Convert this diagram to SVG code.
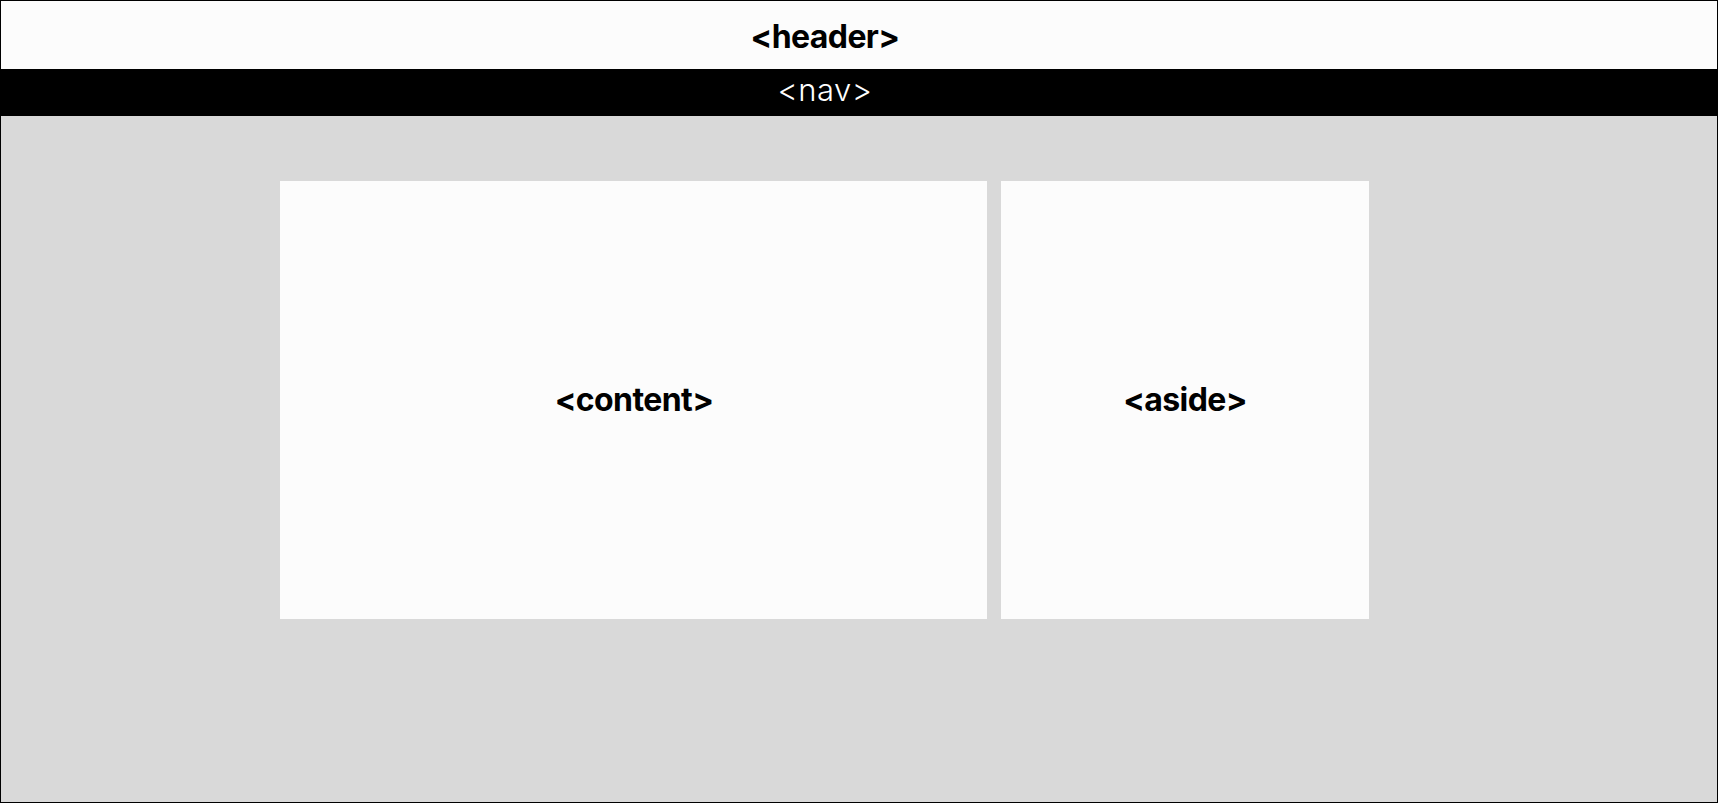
<svg xmlns="http://www.w3.org/2000/svg" width="1718" height="803" viewBox="0 0 1718 803">
<style>
.lbl{font-family:Inter,"Liberation Sans",sans-serif;font-weight:700;font-size:32px;fill:#000;text-anchor:middle;letter-spacing:-0.6px}
.nav{font-family:Inter,"Liberation Sans",sans-serif;font-weight:300;font-size:31px;fill:#fff;text-anchor:middle;letter-spacing:0.5px}
</style>
<rect x="0.5" y="0.5" width="1717" height="802" fill="#d9d9d9" stroke="#000" stroke-width="1"/>
<g id="header">
<rect x="1" y="1" width="1716" height="68" fill="#fcfcfc"/>
<text class="lbl" x="825" y="48">&lt;header&gt;</text>
</g>
<g id="nav">
<rect x="0" y="69" width="1718" height="47" fill="#000"/>
<text class="nav" x="825" y="101">&lt;nav&gt;</text>
</g>
<g id="content">
<rect x="280" y="181" width="707" height="438" fill="#fcfcfc"/>
<text class="lbl" x="634" y="411">&lt;content&gt;</text>
</g>
<g id="aside">
<rect x="1001" y="181" width="368" height="438" fill="#fcfcfc"/>
<text class="lbl" x="1185" y="411">&lt;aside&gt;</text>
</g>
<g id="connectors"></g>
</svg>
